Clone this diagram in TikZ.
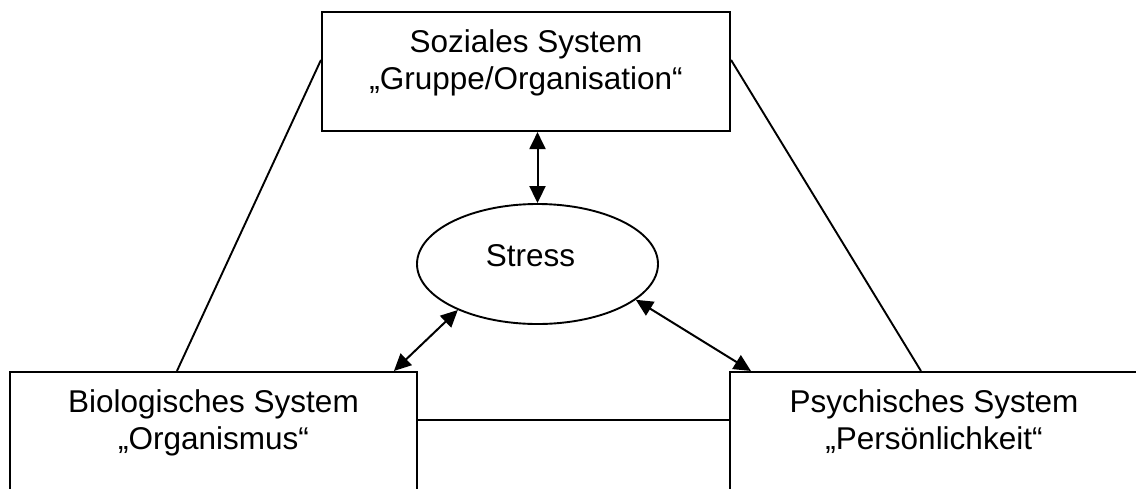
\documentclass[tikz,border=0pt]{standalone}
\usepackage{fontspec}
\setmainfont{Liberation Sans}
\usetikzlibrary{arrows.meta,shapes.geometric,calc}
\tikzset{
  sysbox/.style={draw, line width=2.1pt, rectangle, inner sep=0pt},
  systext/.style={anchor=north, align=center, inner sep=0pt,
    font=\fontsize{31.5}{37}\selectfont},
  link/.style={line width=1.9pt},
  biarrow/.style={line width=2pt, {Triangle[length=17pt,width=16pt]}-{Triangle[length=17pt,width=16pt]}}
}
\begin{document}
\begin{tikzpicture}[x=1pt,y=-1pt]
  \useasboundingbox (0,0) rectangle (1136,488);
  \clip (0,0) rectangle (1136,488);

  % the three systems
  \node[sysbox, minimum width=408pt, minimum height=119pt] (soz) at (526,71.5) {};
  \node[sysbox, minimum width=407pt, minimum height=140pt] (bio) at (213.5,442) {};
  \node[sysbox, minimum width=408pt, minimum height=140pt] (psy) at (934,442) {};

  \node[systext] (sozt) at ([yshift=-19pt]soz.north) {Soziales System\\„Gruppe/Organisation“};
  \node[systext] (biot) at ([yshift=-19pt]bio.north) {Biologisches System\\„Organismus“};
  \node[systext] (psyt) at ([yshift=-19pt]psy.north) {Psychisches System\\„Persönlichkeit“};

  % stress in the middle
  \node[draw, ellipse, line width=1.9pt, minimum width=241pt, minimum height=120pt,
        inner sep=0pt] (stress) at (537.5,264) {};
  \node[font=\fontsize{31.5}{37}\selectfont, inner sep=0pt] (stresst)
        at ([xshift=-7pt,yshift=8pt]stress.center) {Stress};

  % frame lines between the systems
  \draw[link] ([yshift=-49pt]soz.north west) -- ([xshift=168pt]bio.north west);
  \draw[link] ([yshift=-49pt]soz.north east) -- ([xshift=192pt]psy.north west);
  \draw[link] ([yshift=22pt]bio.east) -- ([yshift=22pt]psy.west);

  % interactions with stress
  \draw[biarrow] (stress.north |- soz.south) -- (stress.north);
  \draw[biarrow] (stress.210) -- ([xshift=385pt]bio.north west);
  \draw[biarrow] (stress.340) -- ([xshift=22pt]psy.north west);
\end{tikzpicture}
\end{document}
